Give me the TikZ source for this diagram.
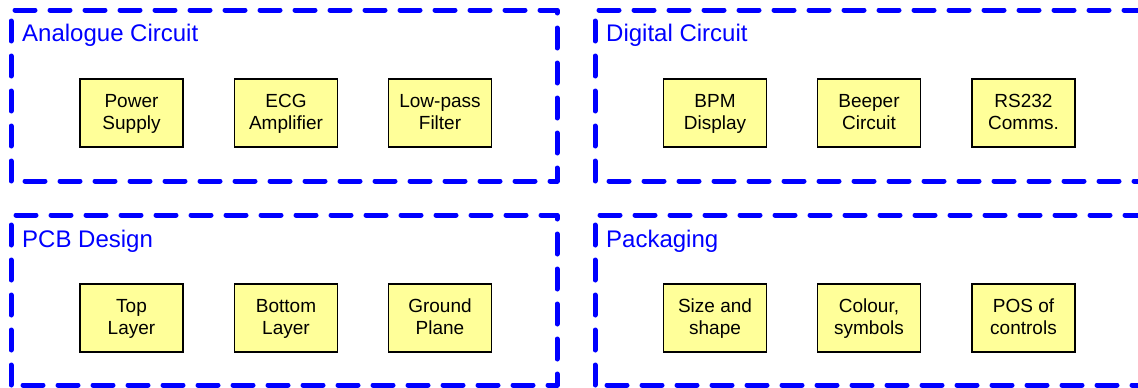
\documentclass[tikz,border=0pt]{standalone}
\usepackage{fontspec}
\setmainfont{Liberation Sans}
\definecolor{groupblue}{HTML}{0000FF}
\definecolor{blockfill}{HTML}{FFFF99}
% equal height and depth for every text line inside a block
\newcommand{\blkline}{\rule[-5pt]{0pt}{21pt}}
\begin{document}
\begin{tikzpicture}[x=1pt,y=-1pt,
  groupframe/.style={draw=groupblue,line width=5pt,line cap=round,line join=round,
    dash pattern=on 20pt off 15pt},
  grouptitle/.style={anchor=base west,inner sep=0pt,text=groupblue,
    font=\fontsize{24}{28}\selectfont},
  block/.style={draw=black,line width=1.5pt,fill=blockfill,minimum width=103pt,
    minimum height=68pt,inner sep=0pt,align=center,
    font=\fontsize{19}{22}\selectfont}]
\useasboundingbox (0,0) rectangle (1138,388);

% group frames
\draw[groupframe] (11,181) -- (11,10) -- (557,10) -- (557,181) -- cycle;
\draw[groupframe] (595,181) -- (595,10) -- (1141,10) -- (1141,181) -- cycle;
\draw[groupframe] (11,385) -- (11,215) -- (557,215) -- (557,385) -- cycle;
\draw[groupframe] (595,385) -- (595,215) -- (1141,215) -- (1141,385) -- cycle;

% group titles
\node[grouptitle] (tana) at (22,41) {Analogue Circuit};
\node[grouptitle] (tdig) at (606,41) {Digital Circuit};
\node[grouptitle] (tpcb) at (22,247) {PCB Design};
\node[grouptitle] (tpkg) at (606,247) {Packaging};

% analogue blocks
\node[block] (power) at (131.5,113) {Power\blkline\\Supply\blkline};
\node[block] (ecg)   at (286,113)   {ECG\blkline\\Amplifier\blkline};
\node[block] (lpf)   at (440,113)   {Low-pass\blkline\\Filter\blkline};

% digital blocks
\node[block] (bpm)   at (715,113)    {BPM\blkline\\Display\blkline};
\node[block] (beep)  at (869,113)    {Beeper\blkline\\Circuit\blkline};
\node[block] (rs232) at (1023.5,113) {RS232\blkline\\Comms.\blkline};

% PCB blocks
\node[block] (top)    at (131.5,318) {Top\blkline\\Layer\blkline};
\node[block] (bottom) at (286,318)   {Bottom\blkline\\Layer\blkline};
\node[block] (ground) at (440,318)   {Ground\blkline\\Plane\blkline};

% packaging blocks
\node[block] (size)   at (715,318)    {Size and\blkline\\shape\blkline};
\node[block] (colour) at (869,318)    {Colour,\blkline\\symbols\blkline};
\node[block] (pos)    at (1023.5,318) {POS of\blkline\\controls\blkline};
\end{tikzpicture}
\end{document}
